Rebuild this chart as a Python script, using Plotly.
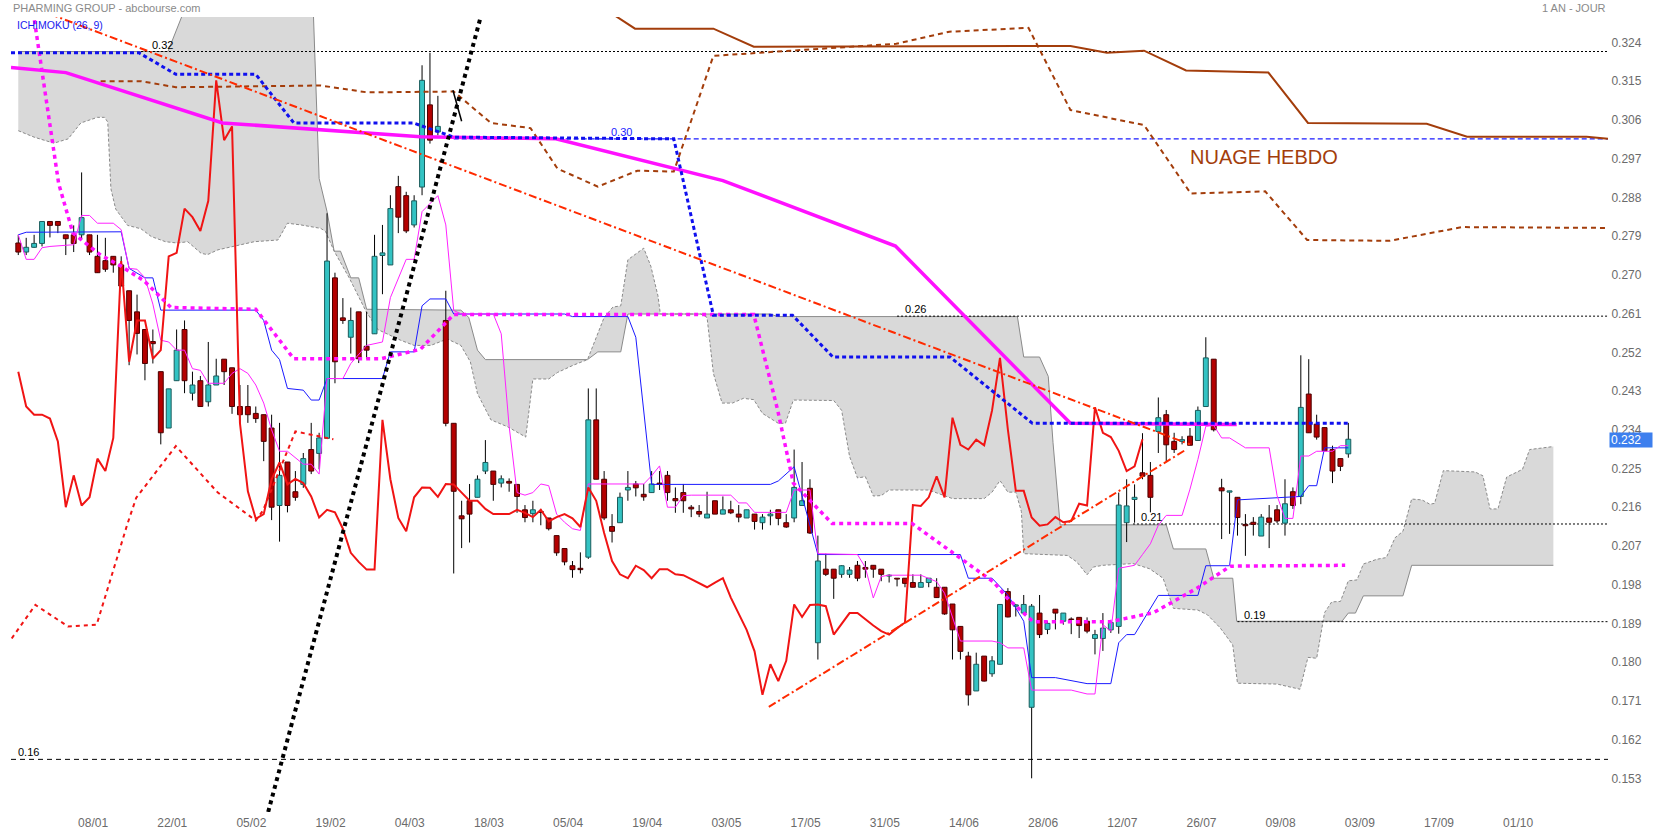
import plotly.graph_objects as go

# ---------------- data (x = trading-day index, first candle = 0) ----------------
DATE_LABELS = ["08/01", "22/01", "05/02", "19/02", "04/03", "18/03", "05/04", "19/04", "03/05",
               "17/05", "31/05", "14/06", "28/06", "12/07", "26/07", "09/08", "03/09", "17/09", "01/10"]
DATE_POS = [9.45 + 10 * k for k in range(len(DATE_LABELS))]

OPEN = [
    0.2774, 0.2753, 0.2764, 0.2773, 0.2824, 0.2824, 0.2793, 0.2793, 0.2793, 0.2793,
    0.2743, 0.2733, 0.2743, 0.2723, 0.2663, 0.2614, 0.2573, 0.2545, 0.2475, 0.2344,
    0.2454, 0.2573, 0.2425, 0.2454, 0.2405, 0.2444, 0.2504, 0.2484, 0.2394, 0.2394,
    0.2378, 0.2375, 0.2344, 0.2164, 0.2265, 0.2196, 0.2213, 0.2294, 0.2285, 0.2320,
    0.2693, 0.2600, 0.2555, 0.2614, 0.2534, 0.2563, 0.2745, 0.2723, 0.2905, 0.2884,
    0.2816, 0.2904, 0.3095, 0.3032, 0.2594, 0.2355, 0.2140, 0.2175, 0.2183, 0.2244,
    0.2244, 0.2216, 0.2220, 0.2213, 0.2154, 0.2145, 0.2150, 0.2135, 0.2094, 0.2064,
    0.2024, 0.2018, 0.2044, 0.2363, 0.2225, 0.2115, 0.2124, 0.2200, 0.2214, 0.2190,
    0.2194, 0.2216, 0.2234, 0.2180, 0.2194, 0.2160, 0.2150, 0.2135, 0.2175, 0.2144,
    0.2154, 0.2144, 0.2135, 0.2144, 0.2124, 0.2140, 0.2154, 0.2124, 0.2135, 0.2164,
    0.2204, 0.1845, 0.2016, 0.2016, 0.2004, 0.2004, 0.2025, 0.2020, 0.2025, 0.2016,
    0.2000, 0.1995, 0.1995, 0.1985, 0.1974, 0.1985, 0.1974, 0.1974, 0.1935, 0.1883,
    0.1814, 0.1733, 0.1814, 0.1773, 0.1795, 0.1964, 0.1930, 0.1914, 0.1695, 0.1914,
    0.1876, 0.1923, 0.1895, 0.1900, 0.1904, 0.1895, 0.1855, 0.1855, 0.1875, 0.1883,
    0.2124, 0.2178, 0.2240, 0.2234, 0.2336, 0.2375, 0.2313, 0.2313, 0.2325, 0.2315,
    0.2394, 0.2504, 0.2205, 0.2195, 0.2183, 0.2120, 0.2125, 0.2093, 0.2135, 0.2154,
    0.2123, 0.2196, 0.2185, 0.2423, 0.2353, 0.2345, 0.2294, 0.2273, 0.2284]

HIGH = [
    0.2793, 0.2786, 0.2793, 0.2824, 0.2824, 0.2824, 0.2793, 0.2815, 0.2938, 0.2793,
    0.2793, 0.2786, 0.2743, 0.2743, 0.2663, 0.2654, 0.2573, 0.2573, 0.2475, 0.2435,
    0.2573, 0.2594, 0.2475, 0.2465, 0.2544, 0.2505, 0.2504, 0.2484, 0.2444, 0.2444,
    0.2394, 0.2375, 0.2375, 0.2356, 0.2265, 0.2244, 0.2286, 0.2356, 0.2333, 0.2843,
    0.2705, 0.2646, 0.2624, 0.2614, 0.2614, 0.2793, 0.2816, 0.2885, 0.2930, 0.2893,
    0.2885, 0.3187, 0.3216, 0.3116, 0.2663, 0.2355, 0.2175, 0.2214, 0.2234, 0.2316,
    0.2244, 0.2234, 0.2227, 0.2213, 0.2165, 0.2175, 0.2156, 0.2135, 0.2094, 0.2064,
    0.2035, 0.2055, 0.2436, 0.2436, 0.2244, 0.2144, 0.2194, 0.2244, 0.2221, 0.2214,
    0.2244, 0.2244, 0.2244, 0.2206, 0.2214, 0.2165, 0.2165, 0.2196, 0.2175, 0.2185,
    0.2175, 0.2165, 0.2154, 0.2144, 0.2144, 0.2154, 0.2154, 0.2144, 0.2294, 0.2265,
    0.2225, 0.2094, 0.2052, 0.2016, 0.2025, 0.2021, 0.2035, 0.2035, 0.2025, 0.2016,
    0.2004, 0.1995, 0.1995, 0.2004, 0.2004, 0.1995, 0.1995, 0.1974, 0.1935, 0.1883,
    0.1824, 0.1822, 0.1814, 0.1814, 0.1935, 0.1972, 0.1935, 0.1956, 0.1935, 0.1956,
    0.1895, 0.1923, 0.1914, 0.1904, 0.1904, 0.1904, 0.1875, 0.1914, 0.1895, 0.2194,
    0.2225, 0.2213, 0.2332, 0.2265, 0.2415, 0.2386, 0.2333, 0.2325, 0.2344, 0.2394,
    0.2555, 0.2504, 0.2226, 0.2198, 0.2183, 0.2144, 0.2137, 0.2144, 0.2165, 0.2165,
    0.2225, 0.2206, 0.2513, 0.2504, 0.2375, 0.2345, 0.2303, 0.2273, 0.2356]

LOW = [
    0.2746, 0.2746, 0.2763, 0.2766, 0.2787, 0.2797, 0.2746, 0.2753, 0.2782, 0.2746,
    0.2705, 0.2707, 0.2705, 0.2674, 0.2490, 0.2515, 0.2455, 0.2494, 0.2306, 0.2344,
    0.2454, 0.2425, 0.2408, 0.2394, 0.2394, 0.2444, 0.2444, 0.2377, 0.2356, 0.2356,
    0.2356, 0.2267, 0.2130, 0.2080, 0.2148, 0.2175, 0.2205, 0.2237, 0.2248, 0.2320,
    0.2448, 0.2586, 0.2517, 0.2495, 0.2505, 0.2563, 0.2655, 0.2723, 0.2797, 0.2797,
    0.2810, 0.2885, 0.3005, 0.3024, 0.2348, 0.2006, 0.2065, 0.2078, 0.2183, 0.2237,
    0.2175, 0.2206, 0.2196, 0.2147, 0.2125, 0.2125, 0.2118, 0.2106, 0.2047, 0.2025,
    0.1996, 0.2006, 0.2040, 0.2225, 0.2130, 0.2078, 0.2124, 0.2175, 0.2185, 0.2175,
    0.2194, 0.2200, 0.2175, 0.2147, 0.2147, 0.2137, 0.2137, 0.2135, 0.2144, 0.2144,
    0.2144, 0.2125, 0.2135, 0.2108, 0.2108, 0.2118, 0.2118, 0.2112, 0.2125, 0.2164,
    0.2098, 0.1806, 0.2000, 0.1947, 0.1996, 0.1996, 0.1988, 0.1996, 0.1996, 0.1988,
    0.1985, 0.1976, 0.1974, 0.1974, 0.1974, 0.1974, 0.1949, 0.1910, 0.1806, 0.1806,
    0.1699, 0.1733, 0.1755, 0.1766, 0.1795, 0.1904, 0.1906, 0.1914, 0.1530, 0.1856,
    0.1865, 0.1876, 0.1887, 0.1865, 0.1856, 0.1867, 0.1818, 0.1826, 0.1868, 0.1866,
    0.2079, 0.2124, 0.2225, 0.2148, 0.2286, 0.2267, 0.2286, 0.2306, 0.2304, 0.2315,
    0.2394, 0.2336, 0.2086, 0.2098, 0.2094, 0.2047, 0.2094, 0.2093, 0.2065, 0.2123,
    0.2094, 0.2156, 0.2167, 0.2333, 0.2317, 0.2290, 0.2216, 0.2244, 0.2275]

CLOSE = [
    0.2753, 0.2764, 0.2773, 0.2824, 0.2815, 0.2815, 0.2784, 0.2773, 0.2833, 0.2753,
    0.2705, 0.2713, 0.2723, 0.2674, 0.2594, 0.2564, 0.2494, 0.2540, 0.2333, 0.2435,
    0.2525, 0.2454, 0.2444, 0.2394, 0.2444, 0.2465, 0.2475, 0.2394, 0.2375, 0.2375,
    0.2366, 0.2313, 0.2160, 0.2234, 0.2164, 0.2183, 0.2273, 0.2244, 0.2321, 0.2732,
    0.2498, 0.2594, 0.2594, 0.2505, 0.2525, 0.2743, 0.2751, 0.2854, 0.2834, 0.2802,
    0.2872, 0.3152, 0.3013, 0.3045, 0.2355, 0.2197, 0.2133, 0.2144, 0.2225, 0.2264,
    0.2213, 0.2226, 0.2216, 0.2185, 0.2136, 0.2154, 0.2148, 0.2110, 0.2054, 0.2033,
    0.2015, 0.2015, 0.2363, 0.2225, 0.2135, 0.2104, 0.2183, 0.2206, 0.2205, 0.2184,
    0.2214, 0.2213, 0.2194, 0.2175, 0.2175, 0.2156, 0.2144, 0.2144, 0.2144, 0.2154,
    0.2147, 0.2137, 0.2154, 0.2127, 0.2137, 0.2144, 0.2134, 0.2114, 0.2206, 0.2175,
    0.2100, 0.2035, 0.2004, 0.1995, 0.2024, 0.2014, 0.1995, 0.2016, 0.2016, 0.2004,
    0.2002, 0.1993, 0.1983, 0.1974, 0.1985, 0.1995, 0.1950, 0.1912, 0.1875, 0.1825,
    0.1724, 0.1795, 0.1756, 0.1803, 0.1934, 0.1905, 0.1933, 0.1934, 0.1930, 0.1864,
    0.1890, 0.1914, 0.1914, 0.1899, 0.1885, 0.1872, 0.1864, 0.1879, 0.1892, 0.2165,
    0.2163, 0.2183, 0.2232, 0.2183, 0.2368, 0.2305, 0.2294, 0.2317, 0.2304, 0.2385,
    0.2507, 0.2340, 0.2198, 0.2198, 0.2136, 0.2117, 0.2120, 0.2137, 0.2125, 0.2128,
    0.2168, 0.2164, 0.2392, 0.2333, 0.2323, 0.2291, 0.2244, 0.2255, 0.2318]

CHIKOU_SHIFT = 26

# daily Ichimoku lines (index, value)
TENKAN = [(0, 0.2793), (1, 0.2799), (13, 0.2800), (14, 0.2715), (16, 0.2693), (17, 0.2693), (18, 0.2618),
          (30, 0.2618), (31, 0.2594), (32, 0.2525), (33, 0.2503), (34, 0.2436), (36, 0.2432), (37, 0.2409),
          (38, 0.2409), (39, 0.2459), (46, 0.2459), (47, 0.2521), (50, 0.2521), (51, 0.2628), (52, 0.2644),
          (54, 0.2644), (55, 0.2609), (69, 0.2609), (70, 0.2603), (77, 0.2603), (78, 0.2555), (79, 0.2386),
          (80, 0.2213), (95, 0.2213), (96, 0.2221), (98, 0.2254), (99, 0.2187), (101, 0.2050), (119, 0.2050),
          (120, 0.1995), (123, 0.1995), (125, 0.1956), (127, 0.1895), (128, 0.1764), (131, 0.1764),
          (135, 0.1750), (138, 0.1750), (139, 0.1845), (140, 0.1864), (141, 0.1864), (144, 0.1955),
          (149, 0.1955), (150, 0.2024), (153, 0.2024), (154, 0.2177), (162, 0.2185), (163, 0.2210),
          (164, 0.2210), (165, 0.2298), (168, 0.2298)]

KIJUN = [(0, 0.2793), (1, 0.2736), (2, 0.2736), (3, 0.2763), (4, 0.2766), (7, 0.2770), (8, 0.2838), (9, 0.2838),
         (10, 0.2820), (12, 0.2820), (13, 0.2805), (14, 0.2715), (15, 0.2713), (16, 0.2693), (17, 0.2632),
         (18, 0.2548), (19, 0.2544), (20, 0.2525), (21, 0.2525), (22, 0.2482), (23, 0.2478), (24, 0.2448),
         (26, 0.2448), (27, 0.2471), (28, 0.2482), (29, 0.2471), (30, 0.2444), (31, 0.2402), (32, 0.2340),
         (33, 0.2290), (34, 0.2290), (35, 0.2275), (36, 0.2260), (37, 0.2260), (38, 0.2237), (39, 0.2459),
         (41, 0.2459), (42, 0.2494), (44, 0.2536), (46, 0.2544), (47, 0.2647), (49, 0.2736), (50, 0.2736),
         (51, 0.2847), (53, 0.2884), (54, 0.2816), (55, 0.2617), (56, 0.2609), (60, 0.2609), (61, 0.2563),
         (62, 0.2348), (63, 0.2194), (64, 0.2188), (65, 0.2194), (66, 0.2214), (67, 0.2210), (68, 0.2144),
         (69, 0.2125), (70, 0.2110), (71, 0.2106), (72, 0.2214), (79, 0.2214), (80, 0.2233), (81, 0.2256),
         (82, 0.2160), (83, 0.2160), (84, 0.2187), (85, 0.2188), (90, 0.2188), (91, 0.2170), (92, 0.2170),
         (93, 0.2148), (97, 0.2148), (98, 0.2200), (100, 0.2200), (101, 0.2052), (106, 0.2050), (107, 0.2020),
         (108, 0.1949), (109, 0.1999), (110, 0.2002), (114, 0.2002), (115, 0.1995), (116, 0.1987),
         (117, 0.1960), (118, 0.1903), (119, 0.1849), (123, 0.1849), (124, 0.1845), (125, 0.1833),
         (127, 0.1833), (128, 0.1735), (133, 0.1735), (135, 0.1726), (136, 0.1726), (137, 0.1887),
         (138, 0.1872), (139, 0.2018), (141, 0.2025), (142, 0.2050), (143, 0.2075), (144, 0.2118),
         (145, 0.2141), (147, 0.2141), (148, 0.2202), (149, 0.2271), (150, 0.2348), (151, 0.2350),
         (152, 0.2321), (153, 0.2321), (154, 0.2310), (155, 0.2298), (158, 0.2298), (159, 0.2187),
         (160, 0.2134), (161, 0.2134), (162, 0.2279), (163, 0.2279), (164, 0.2290), (166, 0.2290),
         (167, 0.2303), (168, 0.2303)]

SPAN_A = [(0, 0.3035), (2, 0.3020), (4.5, 0.3006), (6.3, 0.3016), (7.9, 0.3053), (10, 0.3066), (10.9, 0.3066),
          (11.3, 0.3055), (11.7, 0.2900), (12.3, 0.2853), (13.8, 0.2815), (15.5, 0.2807), (16.8, 0.2789),
          (18.6, 0.2777), (20.1, 0.2774), (21.4, 0.2777), (23.1, 0.2750), (23.9, 0.2747), (25.2, 0.2758),
          (27.2, 0.2766), (29.8, 0.2777), (32.8, 0.2781), (34, 0.2820), (35.7, 0.2816), (38.2, 0.2808),
          (38.8, 0.2801), (39.9, 0.2755), (41.8, 0.2693), (43.5, 0.2628), (43.9, 0.2616), (45.4, 0.2573),
          (46.8, 0.2561), (48.3, 0.2548), (50, 0.2536), (52.1, 0.2536), (54.2, 0.2551), (55.9, 0.2536),
          (57.1, 0.2498), (58, 0.2424), (59.7, 0.2363), (61.8, 0.2347), (64.1, 0.2323), (65, 0.2458),
          (67, 0.2458), (68.1, 0.2473), (70.1, 0.2490), (71.9, 0.2503), (74, 0.2601), (75.1, 0.2625),
          (76.1, 0.2628), (77, 0.2735), (79, 0.2762), (79.9, 0.2720), (80.8, 0.2651), (81.1, 0.2609),
          (86.2, 0.2609), (87, 0.2601), (87.8, 0.2471), (88.9, 0.2402), (90.2, 0.2402), (91.6, 0.2413),
          (92.9, 0.2410), (94, 0.2378), (96, 0.2355), (96.9, 0.2355), (97.9, 0.2409), (101.3, 0.2409),
          (103, 0.2408), (104, 0.2385), (105, 0.2278), (106, 0.2228), (107, 0.2231), (108, 0.2186),
          (109, 0.2187), (110, 0.2200), (115, 0.2200), (118, 0.2180), (122, 0.2180), (123, 0.2195),
          (124, 0.2222), (125, 0.2195), (126, 0.2195), (126.7, 0.2150), (127, 0.2052), (132.5, 0.2048),
          (133.7, 0.2033), (135, 0.2003), (135.8, 0.2021), (137, 0.2025), (140.8, 0.2029), (142.9, 0.2017),
          (144.6, 0.1995), (145.9, 0.1925), (149, 0.1921), (150.2, 0.1910), (151.8, 0.1880), (153.4, 0.1840),
          (154, 0.1751), (159, 0.1749), (161.9, 0.1737), (162.9, 0.1811), (164, 0.1809), (165, 0.1915),
          (165.9, 0.1940), (167, 0.1941), (168, 0.1989), (169.1, 0.1991), (169.9, 0.2028), (171.6, 0.2039),
          (172.8, 0.2043), (173.9, 0.2089), (174.9, 0.2104), (176, 0.2179), (177.3, 0.2177), (178.3, 0.2167),
          (178.9, 0.2169), (180, 0.2245), (184, 0.2242), (185, 0.2233), (185.9, 0.2156), (186.9, 0.2156),
          (188, 0.2230), (190, 0.2248), (190.9, 0.2294), (192.2, 0.2297), (193.9, 0.2301)]

SPAN_B = [(0, 0.3219), (18.9, 0.3219), (22.8, 0.3400), (37.1, 0.3400), (38, 0.2924), (39, 0.2847),
          (39.9, 0.2755), (40.7, 0.2755), (42, 0.2693), (43, 0.2693), (44, 0.2620), (55.9, 0.2618),
          (56.9, 0.2601), (58, 0.2525), (59, 0.2503), (71.9, 0.2503), (73.2, 0.2521), (76.1, 0.2521),
          (77, 0.2609), (95, 0.2609), (95.9, 0.2603), (126.2, 0.2603), (127, 0.2509), (129, 0.2509),
          (130.1, 0.2464), (130.7, 0.2310), (131.6, 0.2119), (145, 0.2119), (145.9, 0.2063), (150, 0.2063),
          (151, 0.1995), (153.4, 0.1995), (153.9, 0.1895), (167.2, 0.1895), (168, 0.1914), (168.9, 0.1914),
          (169.9, 0.1954), (174.9, 0.1954), (176, 0.2025), (193.9, 0.2025)]

# weekly / drawn lines (index, value)
WEEK_TENKAN = [(-0.92, 0.3216), (15.24, 0.3216), (19.9, 0.3166), (30.0, 0.3166), (34.8, 0.3053), (49.9, 0.3053),
               (55.0, 0.3020), (82.8, 0.3016), (87.8, 0.2606), (97.8, 0.2606), (102.9, 0.2509),
               (117.7, 0.2509), (128.1, 0.2355), (168, 0.2355)]
WEEK_KIJUN = [(-0.92, 0.3182), (6.02, 0.3170), (25.8, 0.3053), (50.8, 0.3021), (67.9, 0.3016), (89.0, 0.2919),
              (110.8, 0.2767), (132.9, 0.2355), (153.9, 0.2352)]
WEEK_DOTTED = [(0.5, 0.3380), (1.98, 0.3299), (5.1, 0.2912), (6.9, 0.2797), (10.4, 0.2746), (12.9, 0.2721),
               (15.9, 0.2686), (19.3, 0.2624), (30.0, 0.2620), (34.8, 0.2505), (45.8, 0.2505), (50.8, 0.2527),
               (55.0, 0.2608), (92.9, 0.2608), (95.9, 0.2387), (97.9, 0.2216), (102.8, 0.2122), (112.9, 0.2122),
               (123.2, 0.1986), (124.9, 0.1949), (128.2, 0.1894), (137.9, 0.1894), (143.4, 0.1915),
               (148.9, 0.1972), (153.1, 0.2023), (167.6, 0.2025)]
WEEK_CHIKOU = [(-0.83, 0.1855), (2.16, 0.1933), (6.27, 0.1883), (9.9, 0.1887), (13.8, 0.2122), (14.9, 0.2182),
               (19.9, 0.2302), (25.2, 0.2194), (30.0, 0.2129), (30.9, 0.2152), (35.0, 0.2336), (39.8, 0.2318)]
WEEK_SPAN_B = [(73.5, 0.3325), (75.7, 0.3299), (77.9, 0.3272), (87.8, 0.3272), (92.9, 0.3230), (132.9, 0.3232),
               (137.5, 0.3216), (142.2, 0.3221), (147.5, 0.3175), (157.9, 0.3170), (162.9, 0.3053),
               (177.9, 0.3051), (183.0, 0.3021), (198.1, 0.3021), (200.8, 0.3016)]
WEEK_SPAN_A = [(10.4, 0.3150), (15.5, 0.3150), (19.9, 0.3136), (38.2, 0.3140), (44.1, 0.3124), (55.0, 0.3126),
               (59.7, 0.3053), (64.7, 0.3041), (68.1, 0.2947), (73.2, 0.2905), (78.2, 0.2942), (82.8, 0.2940),
               (87.8, 0.3209), (110.9, 0.3237), (117.6, 0.3265), (127.6, 0.3274), (132.9, 0.3083),
               (142.2, 0.3048), (148.1, 0.2889), (157.5, 0.2894), (162.8, 0.2781), (173.2, 0.2779),
               (182.4, 0.2811), (200.8, 0.2809)]

TREND_BLACK = [(30.0, 0.1344), (61.0, 0.3478)]
TREND_BLACK_SMALL = [(54.9, 0.3129), (56.0, 0.3057)]
TREND_DOWN = [(4.0, 0.3306), (148.0, 0.2306)]
TREND_UP = [(94.8, 0.1696), (147.6, 0.2295)]

LEVELS = [0.3219, 0.3016, 0.2604, 0.2121, 0.1894, 0.1574]
LEVEL_START = [15.5, 55.0, 111.0, 140.8, 154.0, -0.92]
LEVEL_TEXT = ["0.32", "0.30", "0.26", "0.21", "0.19", "0.16"]
LEVEL_TEXT_X = [16.6, 74.6, 111.7, 141.6, 154.6, -0.3]
LEVEL_COLOR = ["#000000", "#1a1aff", "#000000", "#000000", "#000000", "#000000"]
LEVEL_DASH = ["2px,2px", "5px,3px", "2px,2px", "2px,2px", "2px,2px", "5px,4px"]

Y_TICKS = [round(0.153 + 0.009 * k, 3) for k in range(20)]
X_RANGE = [-0.92, 200.8]
Y_RANGE = [0.14517, 0.32992]

FONT = "Liberation Sans, Arial, sans-serif"


def xs(pts):
    return [p[0] for p in pts]


def ys(pts):
    return [p[1] for p in pts]


fig = go.Figure()

# ---- cloud ----
fig.add_trace(go.Scatter(x=xs(SPAN_B), y=ys(SPAN_B), mode="lines",
                         line=dict(color="#8a8a8a", width=1), hoverinfo="skip", zorder=0))
fig.add_trace(go.Scatter(x=xs(SPAN_A), y=ys(SPAN_A), mode="lines",
                         line=dict(color="#8a8a8a", width=1, dash="3px,2px"),
                         fill="tonexty", fillcolor="#d9d9d9", hoverinfo="skip", zorder=0))

# ---- horizontal levels ----
for lv, st, col, dsh in zip(LEVELS, LEVEL_START, LEVEL_COLOR, LEVEL_DASH):
    fig.add_trace(go.Scatter(x=[st, X_RANGE[1]], y=[lv, lv], mode="lines",
                             line=dict(color=col, width=1.2 if col != "#000000" else 1, dash=dsh),
                             hoverinfo="skip", zorder=1))

# ---- candles ----
n = len(CLOSE)
wx, wy = [], []
for i in range(n):
    wx += [i, i, None]
    wy += [LOW[i], HIGH[i], None]
fig.add_trace(go.Scatter(x=wx, y=wy, mode="lines", line=dict(color="#000000", width=1),
                         hoverinfo="skip", zorder=2))

up = [i for i in range(n) if CLOSE[i] >= OPEN[i]]
dn = [i for i in range(n) if CLOSE[i] < OPEN[i]]
fig.add_trace(go.Bar(x=up, base=[OPEN[i] for i in up],
                     y=[max(CLOSE[i] - OPEN[i], 0.00012) for i in up], width=0.62,
                     marker=dict(color="#33c3c3", line=dict(color="#1b5c5c", width=1)), zorder=3))
fig.add_trace(go.Bar(x=dn, base=[CLOSE[i] for i in dn],
                     y=[max(OPEN[i] - CLOSE[i], 0.00012) for i in dn], width=0.62,
                     marker=dict(color="#b40000", line=dict(color="#4a0000", width=1)), zorder=3))


def line(pts, color, width, dash=None, z=4):
    fig.add_trace(go.Scatter(x=xs(pts), y=ys(pts), mode="lines",
                             line=dict(color=color, width=width, dash=dash),
                             hoverinfo="skip", zorder=z))


# ---- weekly cloud (brown) ----
line(WEEK_SPAN_B, "#a33d0b", 2)
line(WEEK_SPAN_A, "#a33d0b", 2, "5px,4px")

# ---- daily tenkan / kijun ----
line(TENKAN, "#1a1aff", 1)
line(KIJUN, "#ff22ff", 1)

# ---- chikou ----
fig.add_trace(go.Scatter(x=[i - CHIKOU_SHIFT for i in range(CHIKOU_SHIFT, n)], y=CLOSE[CHIKOU_SHIFT:],
                         mode="lines", line=dict(color="#f01414", width=2), hoverinfo="skip", zorder=4))

# ---- weekly lines ----
line(WEEK_CHIKOU, "#f01414", 2, "4px,4px")
line(WEEK_KIJUN, "#ff11ff", 3.5)
line(WEEK_DOTTED, "#ff11ff", 3.5, "4px,4px")
line(WEEK_TENKAN, "#1010ee", 3, "4px,3px")

# ---- trend lines ----
line(TREND_DOWN, "#ff2a00", 2, "8px,3px,2px,3px")
line(TREND_UP, "#ff2a00", 2, "8px,3px,2px,3px")
line(TREND_BLACK, "#000000", 4, "4px,4px")
line(TREND_BLACK_SMALL, "#000000", 1.5)

# ---- annotations ----
ann = []
for txt, tx, lv, col in zip(LEVEL_TEXT, LEVEL_TEXT_X, LEVELS, LEVEL_COLOR):
    ann.append(dict(x=tx, y=lv, xref="x", yref="y", text=txt, showarrow=False, xanchor="left",
                    yanchor="bottom", yshift=-1, font=dict(family=FONT, size=11, color=col)))
ann.append(dict(x=147.8, y=0.2974, xref="x", yref="y", text="NUAGE HEBDO", showarrow=False,
                xanchor="left", yanchor="middle", font=dict(family=FONT, size=20, color="#a33d0b")))
ann.append(dict(x=0, y=1, xref="paper", yref="paper", text="PHARMING GROUP - abcbourse.com",
                showarrow=False, xanchor="left", yanchor="middle", yshift=9,
                font=dict(family=FONT, size=11, color="#8a8a8a")))
ann.append(dict(x=1, y=1, xref="paper", yref="paper", text="1 AN - JOUR", showarrow=False,
                xanchor="right", yanchor="middle", yshift=9, font=dict(family=FONT, size=11, color="#8a8a8a")))
ann.append(dict(x=0, y=1, xref="paper", yref="paper", text="ICHIMOKU (26, 9)", showarrow=False,
                xanchor="left", yanchor="middle", xshift=4, yshift=-8,
                font=dict(family=FONT, size=10.5, color="#1a1aee")))
ann.append(dict(x=1, y=CLOSE[-1], xref="paper", yref="y", text=f"{CLOSE[-1]:.3f}", showarrow=False,
                xanchor="left", yanchor="middle", xshift=1, yshift=-1, width=40, height=12, align="left",
                bgcolor="#3d7fee", borderpad=1, font=dict(family=FONT, size=12, color="#ffffff")))

fig.update_layout(
    width=1653, height=840,
    margin=dict(l=10, r=45, t=17, b=21),
    paper_bgcolor="#ffffff", plot_bgcolor="#ffffff",
    showlegend=False, barmode="overlay", hovermode=False,
    font=dict(family=FONT, size=12, color="#6b6b6b"),
    annotations=ann,
    xaxis=dict(range=X_RANGE, tickvals=DATE_POS, ticktext=DATE_LABELS, showgrid=False, zeroline=False,
               showline=True, mirror=True, linecolor="#dddddd", linewidth=1, ticks="",
               tickfont=dict(family=FONT, size=12, color="#6b6b6b")),
    yaxis=dict(range=Y_RANGE, side="right", tickvals=Y_TICKS, ticktext=[f"{v:.3f}" for v in Y_TICKS],
               showgrid=False, zeroline=False, showline=True, mirror=True, linecolor="#dddddd",
               linewidth=1, ticks="", tickfont=dict(family=FONT, size=12, color="#6b6b6b")),
)

fig.write_html("out.html", config={"displayModeBar": False},
               post_script="document.body.style.margin='0';document.body.style.padding='0';")
